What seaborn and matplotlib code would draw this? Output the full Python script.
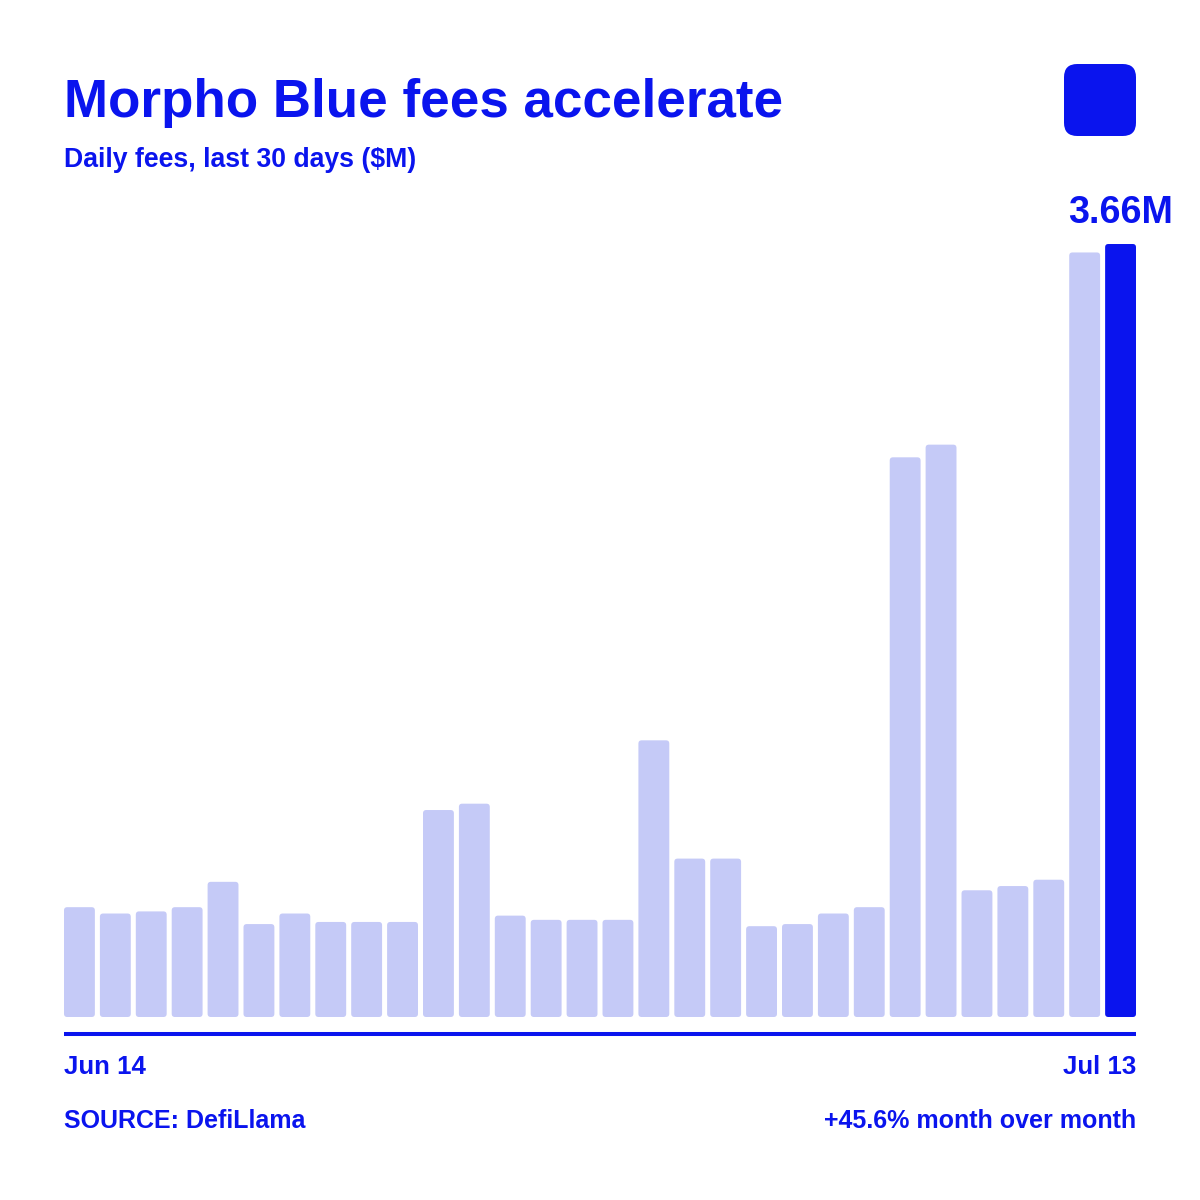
import matplotlib
matplotlib.use("Agg")
import matplotlib.pyplot as plt
from matplotlib.patches import FancyBboxPatch
import seaborn as sns
import pandas as pd

# daily fees in $M, Jun 14 -> Jul 13
days = list(range(1, 31))
fees = [0.52, 0.49, 0.50, 0.52, 0.64, 0.44, 0.49, 0.45, 0.45, 0.45,
        0.98, 1.01, 0.48, 0.46, 0.46, 0.46, 1.31, 0.75, 0.75, 0.43,
        0.44, 0.49, 0.52, 2.65, 2.71, 0.60, 0.62, 0.65, 3.62, 3.66]
first_label = "Jun 14"
last_label = "Jul 13"
peak_label = "3.66M"

BLUE = "#0A14EE"
LIGHT = "#C5CAF7"

sns.set_theme(style="white")
plt.rcParams["font.family"] = ["Liberation Sans", "DejaVu Sans"]
plt.rcParams["font.weight"] = "bold"

df = pd.DataFrame({"day": [str(d) for d in days], "fees": fees})
colors = [LIGHT] * (len(fees) - 1) + [BLUE]

fig = plt.figure(figsize=(12, 12), dpi=100)
W = H = 1200.0
ax = fig.add_axes([64 / W, 1 - 1033.7 / H, (1136 - 64) / W, (1033.7 - 200) / H])

sns.barplot(data=df, x="day", y="fees", hue="day", palette=colors,
            legend=False, width=0.86, saturation=1, ax=ax)

# pixel scale: 211.2 px per $1M, ~35.9 px per bar slot
ax.set_xlim(-0.43, len(fees) - 1 + 0.43)
ax.set_ylim(-16.7 / 211.2, -16.7 / 211.2 + 833.7 / 211.2)

# swap the plain rectangles for slightly rounded ones
for p in list(ax.patches):
    x, y, w, h = p.get_x(), p.get_y(), p.get_width(), p.get_height()
    fc = p.get_facecolor()
    p.remove()
    ax.add_patch(FancyBboxPatch((x, y), w, h,
                                boxstyle="round,pad=0,rounding_size=0.09",
                                mutation_aspect=35.9 / 211.2,
                                facecolor=fc, edgecolor="none"))

for s in ["top", "right", "left"]:
    ax.spines[s].set_visible(False)
ax.spines["bottom"].set_color(BLUE)
ax.spines["bottom"].set_linewidth(2.9)
ax.spines["bottom"].set_capstyle("butt")
ax.set_xticks([])
ax.set_yticks([])
ax.set_xlabel("")
ax.set_ylabel("")

# value label over the last bar
ax.text(len(fees) - 1, fees[-1] + 0.1, peak_label, ha="center", va="baseline",
        color=BLUE, fontsize=27.2, fontweight="bold")

fig.text(64 / W, 1 - 117 / H, "Morpho Blue fees accelerate", color=BLUE,
         fontsize=38.2, fontweight="bold", ha="left", va="baseline")
fig.text(64 / W, 1 - 167 / H, "Daily fees, last 30 days ($M)", color=BLUE,
         fontsize=19.2, fontweight="bold", ha="left", va="baseline")

fig.text(64 / W, 1 - 1074 / H, first_label, color=BLUE, fontsize=18.6,
         fontweight="bold", ha="left", va="baseline")
fig.text(1136 / W, 1 - 1074 / H, last_label, color=BLUE, fontsize=18.6,
         fontweight="bold", ha="right", va="baseline")
fig.text(64 / W, 1 - 1128 / H, "SOURCE: DefiLlama", color=BLUE, fontsize=18,
         fontweight="bold", ha="left", va="baseline")
fig.text(1136 / W, 1 - 1128 / H, "+45.6% month over month", color=BLUE,
         fontsize=18, fontweight="bold", ha="right", va="baseline")

# logo square, top right
fig.patches.append(FancyBboxPatch((1064 / W, 1 - 136 / H), 72 / W, 72 / H,
                                  boxstyle="round,pad=0,rounding_size=0.011",
                                  transform=fig.transFigure, facecolor=BLUE,
                                  edgecolor="none", figure=fig))

fig.savefig("out.png", dpi=100, facecolor="white")
